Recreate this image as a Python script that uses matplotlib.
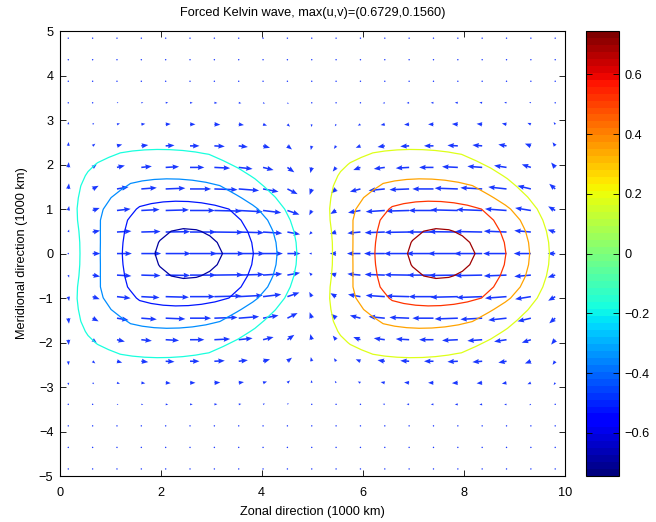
import numpy as np
import matplotlib
matplotlib.use("Agg")
import matplotlib.pyplot as plt
from matplotlib.colors import Normalize
from matplotlib.cm import ScalarMappable

plt.rcParams["font.family"] = ["Liberation Sans", "DejaVu Sans"]
plt.rcParams["font.size"] = 9.2

# ---- velocity arrows (21 x 21 grid) ----
x_q = np.linspace(0.17, 9.81, 21)
y_q = np.linspace(-4.84, 4.84, 21)

# zonal wind along the equator
u_eq = [0.02, 0.17, 0.33, 0.44, 0.56, 0.60, 0.66, 0.58, 0.44, 0.29, -0.06,
        -0.14, -0.30, -0.46, -0.56, -0.60, -0.66, -0.62, -0.52, -0.38, -0.17]
# meridional decay of u (rows from south to north)
u_lat = [0.01, 0.02, 0.05, 0.10, 0.20, 0.35, 0.53, 0.78, 0.92, 0.97, 1.0,
         0.97, 0.92, 0.78, 0.53, 0.35, 0.20, 0.10, 0.05, 0.02, 0.01]
# meridional wind near y = 1.5
v_x = [0.14, 0.08, 0.05, 0.03, 0.02, 0.0, -0.02, -0.04, -0.07, -0.13, -0.15,
       -0.11, -0.07, -0.04, -0.02, 0.0, 0.02, 0.03, 0.05, 0.08, 0.13]
v_lat = [-0.02, -0.05, -0.12, -0.25, -0.45, -0.70, -0.95, -1.0, -0.80, -0.45, 0.0,
         0.45, 0.80, 1.0, 0.95, 0.70, 0.45, 0.25, 0.12, 0.05, 0.02]

# ---- contoured field ----
x_p = np.arange(0, 10.01, 0.25)
p_eq = [0.022, -0.104, -0.221, -0.328, -0.432, -0.529, -0.603, -0.682, -0.715, -0.736,
        -0.745, -0.741, -0.725, -0.697, -0.656, -0.555, -0.466, -0.373, -0.268, -0.149,
        -0.022, 0.104, 0.221, 0.328, 0.432, 0.529, 0.603, 0.682, 0.715, 0.736,
        0.745, 0.741, 0.725, 0.697, 0.656, 0.555, 0.466, 0.373, 0.268, 0.149, 0.022]
y_p = np.arange(-5, 5.01, 0.25)
p_lat = [0.002, 0.004, 0.006, 0.01, 0.015, 0.025, 0.04, 0.06, 0.09, 0.135,
         0.19, 0.26, 0.345, 0.44, 0.545, 0.665, 0.80, 0.90, 0.952, 0.985,
         1.0,
         0.985, 0.952, 0.90, 0.80, 0.665, 0.545, 0.44, 0.345, 0.26,
         0.19, 0.135, 0.09, 0.06, 0.04, 0.025, 0.015, 0.01, 0.006, 0.004, 0.002]
# westward tilt of the pattern away from the equator
p_tilt = [1.21, 1.15, 1.09, 1.03, 0.97, 0.91, 0.85, 0.79, 0.73, 0.67,
          0.61, 0.55, 0.49, 0.41, 0.32, 0.23, 0.15, 0.09, 0.04, 0.01,
          0.0,
          0.01, 0.04, 0.09, 0.15, 0.23, 0.32, 0.41, 0.49, 0.55,
          0.61, 0.67, 0.73, 0.79, 0.85, 0.91, 0.97, 1.03, 1.09, 1.15, 1.21]
levels = [-0.70, -0.525, -0.35, -0.175, 0.175, 0.35, 0.525, 0.70]
clim = 0.745

U = np.outer(u_lat, u_eq)
V = np.outer(v_lat, v_x)
Xq, Yq = np.meshgrid(x_q, y_q)

Xp = x_p[None, :] - np.array(p_tilt)[:, None]
Yp = np.repeat(y_p[:, None], len(x_p), axis=1)
P = np.outer(p_lat, p_eq)

fig = plt.figure(figsize=(6.56, 5.22), dpi=100)
ax = fig.add_axes([0.091, 0.088, 0.770, 0.8525])

norm = Normalize(vmin=-clim, vmax=clim)
ax.contour(Xp, Yp, P, levels=levels, cmap="jet", norm=norm, linewidths=0.9)
ax.quiver(Xq, Yq, U, V, color=(0.1, 0.22, 1.0), angles="xy", scale_units="xy",
          scale=1.12, width=0.0031, headwidth=3.3, headlength=4.2, headaxislength=3.8)

ax.set_xlim(0, 10)
ax.set_ylim(-5, 5)
ax.set_xticks(range(0, 11, 2))
ax.set_yticks(range(-5, 6))
ax.tick_params(direction="in", top=True, right=True, length=4, width=0.6)
ax.tick_params(axis="x", pad=8)
ax.tick_params(axis="y", pad=4.5)
for s in ax.spines.values():
    s.set_linewidth(0.8)

ax.set_title("Forced Kelvin wave, max(u,v)=(0.6729,0.1560)", fontsize=9.2, pad=11)
ax.set_xlabel("Zonal direction (1000 km)", labelpad=5)
ax.set_ylabel("Meridional direction (1000 km)", labelpad=8)

cax = fig.add_axes([0.893, 0.088, 0.0503, 0.8525])
sm = ScalarMappable(norm=norm, cmap=plt.get_cmap("jet", 64))
cb_ticks = [-0.6, -0.4, -0.2, 0, 0.2, 0.4, 0.6]
cb = fig.colorbar(sm, cax=cax, ticks=cb_ticks)
cb.ax.set_yticklabels(["\u22120.6", "\u22120.4", "\u22120.2", "0", "0.2", "0.4", "0.6"])
cb.ax.tick_params(direction="in", left=True, right=True, length=4, width=0.6, pad=4)
cb.outline.set_linewidth(0.8)

fig.savefig("out.png", dpi=100)
